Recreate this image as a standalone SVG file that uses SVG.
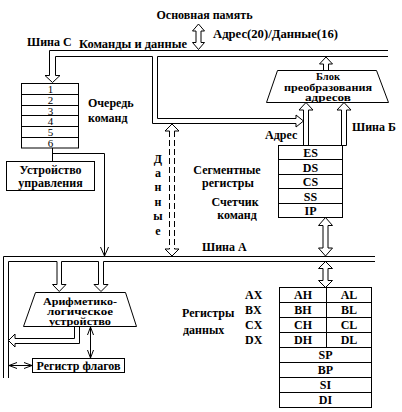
<svg xmlns="http://www.w3.org/2000/svg" width="402" height="412" viewBox="0 0 402 412">
<style>
.t{font-family:"Liberation Serif","Times New Roman",serif;font-weight:bold;font-size:12px;fill:#000}
.m{text-anchor:middle}
.d{font-weight:normal;font-size:11px}
.s{font-size:10.5px}
.box{fill:#fff;stroke:#000;stroke-width:1}
.ln{fill:none;stroke:#000;stroke-width:1}
.ha{fill:#fff;stroke:#000;stroke-width:1}
.dash{fill:none;stroke:#000;stroke-width:1;stroke-dasharray:6 3}
.thin{fill:none;stroke:#000;stroke-width:1;marker-start:url(#ah);marker-end:url(#ah)}
</style>
<defs>
<marker id="ah" viewBox="0 0 8 8" refX="8" refY="4" markerWidth="8" markerHeight="8" markerUnits="userSpaceOnUse" orient="auto-start-reverse">
<path d="M0,1 L8,4 L0,7" fill="none" stroke="#000"/>
</marker>
</defs>
<rect width="402" height="412" fill="#fff"/>

<g id="connectors">
<path class="ln" d="M388,50.5 H49.5 V75.5 H45 L52.5,82.5 L60,75.5 H55.5 V56.5 H152.5 V123.5 H296 V127 L303.5,121 L296,115 V118.5 H157.5 V56.5 H388"/>
<polygon class="ha" points="198.5,24 204.5,31 201,31 201,42.5 204.5,42.5 198.5,49.5 192.5,42.5 196,42.5 196,31 192.5,31"/>
<polygon class="ha" points="326,57 332.5,64 328.5,64 328.5,70.5 323.5,70.5 323.5,64 319.5,64"/>
<polygon class="ha" points="306,102.5 313,110 308.5,110 308.5,145.5 303.5,145.5 303.5,110 299,110"/>
<polygon class="ha" points="344,102.5 351,110 346.5,110 346.5,145.5 341.5,145.5 341.5,110 337,110"/>
<path class="dash" d="M169.5,131 V249 M174.5,131 V249"/>
<path class="ln" d="M169.5,131 H165 L172,124 L179,131 H174.5 M169.5,249 H165 L172,256 L179,249 H174.5"/>
<path class="ln" d="M52.5,148 V161.5 M52.5,153.5 H104.5 V256 M100.5,247 L104.5,256 L108.5,247"/>
<polygon class="ha" points="325.5,217.5 332.5,225.5 328,225.5 328,248 332.5,248 325.5,256 318.5,248 323,248 323,225.5 318.5,225.5"/>
<polygon class="ha" points="325.5,261.5 332.5,268.5 328,268.5 328,280.5 332.5,280.5 325.5,287.5 318.5,280.5 323,280.5 323,268.5 318.5,268.5"/>
<path class="ln" d="M375,256.5 H3.5 V378"/>
<path class="ln" d="M8.5,378 V261.5 H57 V284.5 H52.5 L59.25,291.5 L66,284.5 H61.5 V261.5 H98.5 V284.5 H94 L101,291.5 L108,284.5 H103.5 V261.5 H375"/>
<path class="ha" d="M74.5,326.5 V338.5 H15 V334 L8.5,340.5 L15,347 V343.5 H79.5 V326.5"/>
<path class="thin" d="M90.5,327 V358"/>
<path class="thin" d="M9,365.5 H32"/>
</g>

<g id="memory">
<text class="t m" x="204.5" y="19">Основная память</text>
<text class="t" x="213" y="38" textLength="125" lengthAdjust="spacingAndGlyphs">Адрес(20)/Данные(16)</text>
</g>
<g id="bus-labels">
<text class="t" x="27" y="46">Шина С</text>
<text class="t" x="79" y="48" textLength="108" lengthAdjust="spacingAndGlyphs">Команды и данные</text>
<text class="t" x="265" y="139">Адрес</text>
<text class="t" x="352" y="131">Шина Б</text>
<text class="t" x="202" y="251">Шина А</text>
<text class="t m" x="158" y="162.5">Д</text>
<text class="t m" x="158" y="177">а</text>
<text class="t m" x="158" y="191">н</text>
<text class="t m" x="158" y="205.5">н</text>
<text class="t m" x="158" y="220">ы</text>
<text class="t m" x="158" y="234.5">е</text>
</g>

<g id="queue">
<rect class="box" x="21.5" y="83.5" width="57" height="64.5"/>
<path class="ln" d="M21.5,94.5 H78.5 M21.5,105.5 H78.5 M21.5,115.5 H78.5 M21.5,126.5 H78.5 M21.5,137.5 H78.5"/>
<text class="t m d" x="50.5" y="93">1</text>
<text class="t m d" x="50.5" y="104">2</text>
<text class="t m d" x="50.5" y="114.5">3</text>
<text class="t m d" x="50.5" y="125">4</text>
<text class="t m d" x="50.5" y="136">5</text>
<text class="t m d" x="50.5" y="146.5">6</text>
<text class="t" x="88" y="107">Очередь</text>
<text class="t" x="88" y="122">команд</text>
</g>

<g id="control-unit">
<rect class="box" x="6.5" y="161.5" width="88" height="29"/>
<text class="t m" x="50.5" y="174">Устройство</text>
<text class="t m" x="50.5" y="187">управления</text>
</g>

<g id="address-unit">
<polygon class="box" points="277.5,70.5 376.5,70.5 388.5,102.5 266.5,102.5"/>
<text class="t m s" x="328" y="80">Блок</text>
<text class="t m s" x="328" y="90.5" textLength="88" lengthAdjust="spacingAndGlyphs">преобразования</text>
<text class="t m s" x="328" y="100.5" textLength="46" lengthAdjust="spacingAndGlyphs">адресов</text>
</g>

<g id="segment-registers">
<rect class="box" x="278.5" y="145.5" width="64" height="72"/>
<path class="ln" d="M278.5,159.5 H342.5 M278.5,174.5 H342.5 M278.5,188.5 H342.5 M278.5,203.5 H342.5"/>
<text class="t m" x="310.5" y="157">ES</text>
<text class="t m" x="310.5" y="171.5">DS</text>
<text class="t m" x="310.5" y="186">CS</text>
<text class="t m" x="310.5" y="200.5">SS</text>
<text class="t m" x="310.5" y="215">IP</text>
<text class="t m" x="227" y="173.5">Сегментные</text>
<text class="t m" x="228" y="187">регистры</text>
<text class="t m" x="235" y="205.5">Счетчик</text>
<text class="t m" x="237" y="219">команд</text>
</g>

<g id="data-registers">
<rect class="box" x="279.5" y="287.5" width="92" height="120"/>
<path class="ln" d="M279.5,302.5 H371.5 M279.5,317.5 H371.5 M279.5,332.5 H371.5 M279.5,347.5 H371.5 M279.5,362.5 H371.5 M279.5,377.5 H371.5 M279.5,392.5 H371.5 M326.5,287.5 V347.5"/>
<text class="t m" x="303" y="299">AH</text>
<text class="t m" x="349" y="299">AL</text>
<text class="t m" x="303" y="314">BH</text>
<text class="t m" x="349" y="314">BL</text>
<text class="t m" x="303" y="329">CH</text>
<text class="t m" x="349" y="329">CL</text>
<text class="t m" x="303" y="344">DH</text>
<text class="t m" x="349" y="344">DL</text>
<text class="t m" x="325.5" y="359">SP</text>
<text class="t m" x="325.5" y="374">BP</text>
<text class="t m" x="325.5" y="389">SI</text>
<text class="t m" x="325.5" y="404">DI</text>
<text class="t" x="245" y="299">AX</text>
<text class="t" x="245" y="314">BX</text>
<text class="t" x="245" y="329">CX</text>
<text class="t" x="245" y="344">DX</text>
<text class="t" x="182" y="317">Регистры</text>
<text class="t" x="183" y="334">данных</text>
</g>

<g id="alu">
<polygon class="box" points="35.5,292.5 125.5,292.5 136.5,326.5 23.5,326.5"/>
<text class="t m s" x="80" y="304.5" textLength="74" lengthAdjust="spacingAndGlyphs">Арифметико-</text>
<text class="t m s" x="80" y="315" textLength="66" lengthAdjust="spacingAndGlyphs">логическое</text>
<text class="t m s" x="80" y="325" textLength="62" lengthAdjust="spacingAndGlyphs">устройство</text>
</g>

<g id="flags">
<rect class="box" x="32.5" y="358.5" width="92" height="14"/>
<text class="t m" x="78.5" y="369.5">Регистр флагов</text>
</g>
</svg>
